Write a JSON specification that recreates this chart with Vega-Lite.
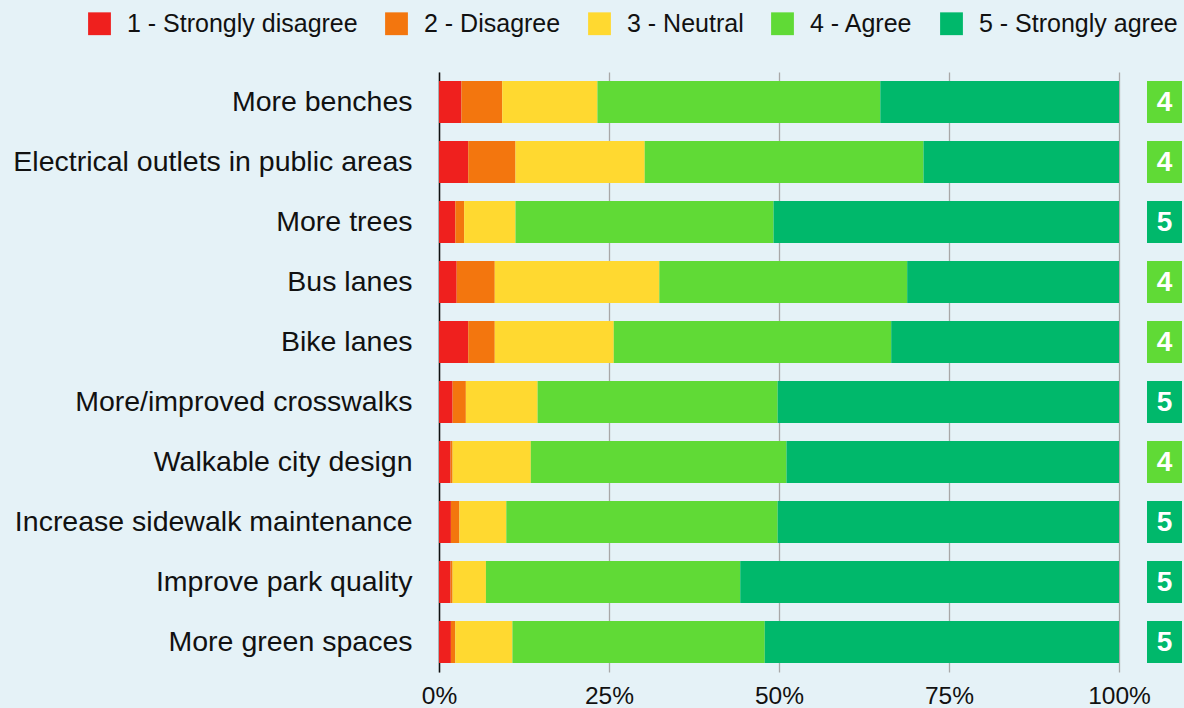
{
  "$schema": "https://vega.github.io/schema/vega-lite/v6.json",
  "background": "#E5F2F7",
  "padding": {"left": 12, "top": 11, "right": 2, "bottom": 4},
  "bounds": "flush",
  "config": {
    "font": "Liberation Sans",
    "view": {"stroke": null},
    "concat": {"spacing": 28}
  },
  "datasets": {
    "survey": [
      {"item": "More benches", "resp": "1 - Strongly disagree", "pct": 3.3},
      {"item": "More benches", "resp": "2 - Disagree", "pct": 6.0},
      {"item": "More benches", "resp": "3 - Neutral", "pct": 14.0},
      {"item": "More benches", "resp": "4 - Agree", "pct": 41.6},
      {"item": "More benches", "resp": "5 - Strongly agree", "pct": 35.1},
      {"item": "Electrical outlets in public areas", "resp": "1 - Strongly disagree", "pct": 4.3},
      {"item": "Electrical outlets in public areas", "resp": "2 - Disagree", "pct": 6.95},
      {"item": "Electrical outlets in public areas", "resp": "3 - Neutral", "pct": 19.0},
      {"item": "Electrical outlets in public areas", "resp": "4 - Agree", "pct": 41.0},
      {"item": "Electrical outlets in public areas", "resp": "5 - Strongly agree", "pct": 28.75},
      {"item": "More trees", "resp": "1 - Strongly disagree", "pct": 2.4},
      {"item": "More trees", "resp": "2 - Disagree", "pct": 1.3},
      {"item": "More trees", "resp": "3 - Neutral", "pct": 7.55},
      {"item": "More trees", "resp": "4 - Agree", "pct": 37.95},
      {"item": "More trees", "resp": "5 - Strongly agree", "pct": 50.8},
      {"item": "Bus lanes", "resp": "1 - Strongly disagree", "pct": 2.6},
      {"item": "Bus lanes", "resp": "2 - Disagree", "pct": 5.6},
      {"item": "Bus lanes", "resp": "3 - Neutral", "pct": 24.2},
      {"item": "Bus lanes", "resp": "4 - Agree", "pct": 36.45},
      {"item": "Bus lanes", "resp": "5 - Strongly agree", "pct": 31.15},
      {"item": "Bike lanes", "resp": "1 - Strongly disagree", "pct": 4.3},
      {"item": "Bike lanes", "resp": "2 - Disagree", "pct": 3.9},
      {"item": "Bike lanes", "resp": "3 - Neutral", "pct": 17.5},
      {"item": "Bike lanes", "resp": "4 - Agree", "pct": 40.8},
      {"item": "Bike lanes", "resp": "5 - Strongly agree", "pct": 33.5},
      {"item": "More/improved crosswalks", "resp": "1 - Strongly disagree", "pct": 2.0},
      {"item": "More/improved crosswalks", "resp": "2 - Disagree", "pct": 1.95},
      {"item": "More/improved crosswalks", "resp": "3 - Neutral", "pct": 10.55},
      {"item": "More/improved crosswalks", "resp": "4 - Agree", "pct": 35.3},
      {"item": "More/improved crosswalks", "resp": "5 - Strongly agree", "pct": 50.2},
      {"item": "Walkable city design", "resp": "1 - Strongly disagree", "pct": 1.7},
      {"item": "Walkable city design", "resp": "2 - Disagree", "pct": 0.3},
      {"item": "Walkable city design", "resp": "3 - Neutral", "pct": 11.5},
      {"item": "Walkable city design", "resp": "4 - Agree", "pct": 37.6},
      {"item": "Walkable city design", "resp": "5 - Strongly agree", "pct": 48.9},
      {"item": "Increase sidewalk maintenance", "resp": "1 - Strongly disagree", "pct": 1.75},
      {"item": "Increase sidewalk maintenance", "resp": "2 - Disagree", "pct": 1.25},
      {"item": "Increase sidewalk maintenance", "resp": "3 - Neutral", "pct": 6.9},
      {"item": "Increase sidewalk maintenance", "resp": "4 - Agree", "pct": 39.9},
      {"item": "Increase sidewalk maintenance", "resp": "5 - Strongly agree", "pct": 50.2},
      {"item": "Improve park quality", "resp": "1 - Strongly disagree", "pct": 1.7},
      {"item": "Improve park quality", "resp": "2 - Disagree", "pct": 0.3},
      {"item": "Improve park quality", "resp": "3 - Neutral", "pct": 4.9},
      {"item": "Improve park quality", "resp": "4 - Agree", "pct": 37.4},
      {"item": "Improve park quality", "resp": "5 - Strongly agree", "pct": 55.7},
      {"item": "More green spaces", "resp": "1 - Strongly disagree", "pct": 1.75},
      {"item": "More green spaces", "resp": "2 - Disagree", "pct": 0.65},
      {"item": "More green spaces", "resp": "3 - Neutral", "pct": 8.4},
      {"item": "More green spaces", "resp": "4 - Agree", "pct": 37.1},
      {"item": "More green spaces", "resp": "5 - Strongly agree", "pct": 52.1}
    ],
    "medians": [
      {"item": "More benches", "median": 4},
      {"item": "Electrical outlets in public areas", "median": 4},
      {"item": "More trees", "median": 5},
      {"item": "Bus lanes", "median": 4},
      {"item": "Bike lanes", "median": 4},
      {"item": "More/improved crosswalks", "median": 5},
      {"item": "Walkable city design", "median": 4},
      {"item": "Increase sidewalk maintenance", "median": 5},
      {"item": "Improve park quality", "median": 5},
      {"item": "More green spaces", "median": 5}
    ]
  },
  "resolve": {"scale": {"y": "independent", "color": "independent"}},
  "hconcat": [
    {
      "data": {"name": "survey"},
      "width": 680,
      "height": 600,
      "mark": {"type": "bar"},
      "encoding": {
        "y": {
          "field": "item",
          "type": "nominal",
          "sort": null,
          "scale": {"paddingInner": 0.3, "paddingOuter": 0.15},
          "axis": {
            "title": null,
            "ticks": false,
            "labelFontSize": 28.5,
            "labelColor": "#111111",
            "labelPadding": 27,
            "labelLimit": 600,
            "domainColor": "#111111",
            "domainWidth": 1.5
          }
        },
        "x": {
          "field": "pct",
          "type": "quantitative",
          "stack": "normalize",
          "scale": {"domain": [0, 1], "nice": false},
          "axis": {
            "title": null,
            "format": ".0%",
            "values": [0, 0.25, 0.5, 0.75, 1],
            "domain": false,
            "ticks": false,
            "labelFontSize": 24.5,
            "labelColor": "#111111",
            "labelPadding": 12,
            "gridColor": "#A8A8A8",
            "gridWidth": 1.3,
            "labelFlush": false
          }
        },
        "color": {
          "field": "resp",
          "type": "nominal",
          "scale": {
            "domain": ["1 - Strongly disagree", "2 - Disagree", "3 - Neutral", "4 - Agree", "5 - Strongly agree"],
            "range": ["#EF201E", "#F3760E", "#FFD930", "#60DA36", "#00B86B"]
          },
          "legend": {
            "title": null,
            "orient": "none",
            "legendX": -352,
            "legendY": -61,
            "direction": "horizontal",
            "columns": 5,
            "symbolType": "square",
            "symbolSize": 520,
            "symbolStrokeWidth": 0,
            "labelFontSize": 25,
            "labelColor": "#111111",
            "labelOffset": 15,
            "columnPadding": 26,
            "labelLimit": 400
          }
        }
      }
    },
    {
      "data": {"name": "medians"},
      "width": 35,
      "height": 600,
      "encoding": {
        "y": {
          "field": "item",
          "type": "nominal",
          "sort": null,
          "scale": {"paddingInner": 0.3, "paddingOuter": 0.15},
          "axis": null
        }
      },
      "layer": [
        {
          "mark": {"type": "bar"},
          "encoding": {
            "fill": {
              "field": "median",
              "type": "nominal",
              "scale": {"domain": [4, 5], "range": ["#60DA36", "#00B86B"]},
              "legend": null
            }
          }
        },
        {
          "mark": {"type": "text", "color": "white", "fontWeight": "bold", "fontSize": 28, "baseline": "middle", "align": "center", "dy": 1},
          "encoding": {
            "text": {"field": "median", "type": "nominal"}
          }
        }
      ]
    }
  ]
}
